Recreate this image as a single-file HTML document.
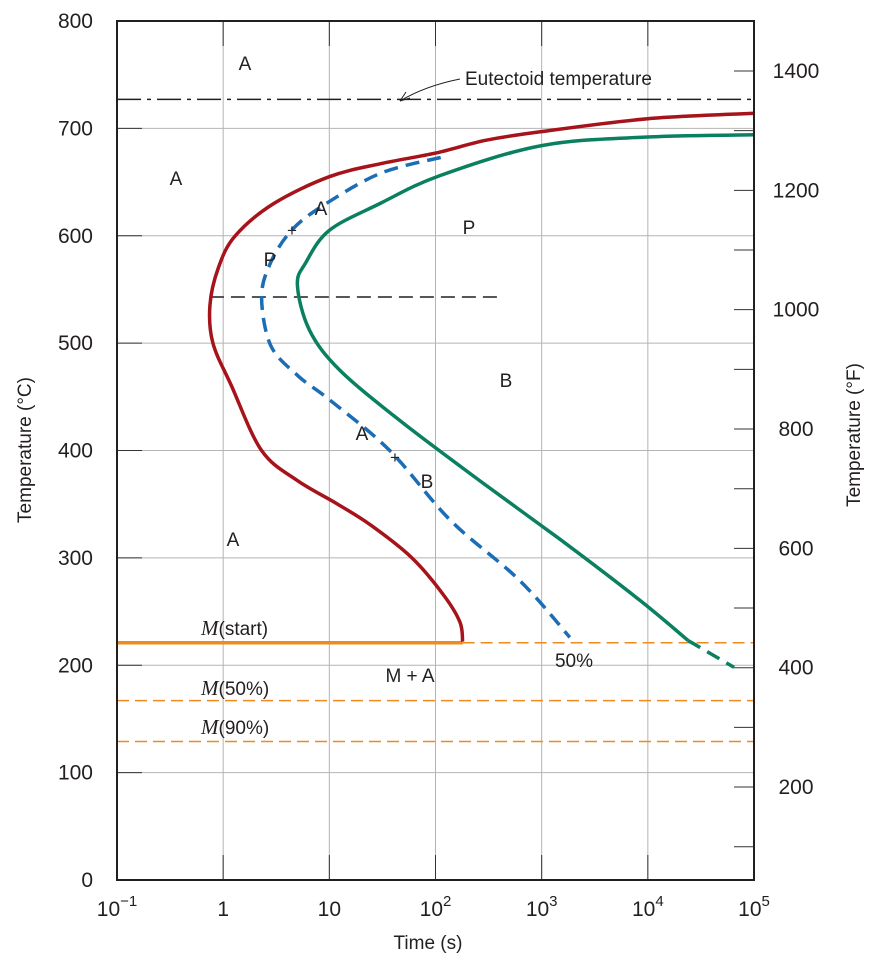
<!DOCTYPE html>
<html><head><meta charset="utf-8"><style>
html,body{margin:0;padding:0;background:#fff;}
svg text{font-family:"Liberation Sans",sans-serif;fill:#231f20;}
</style></head><body>
<svg id="chart" width="877" height="960" viewBox="0 0 877 960" xmlns="http://www.w3.org/2000/svg">
<g id="grid"></g>
<g id="lines"></g>
<g id="curves"></g>
<g id="axes"></g>
<g id="labels">
<text x="245" y="70" font-size="19" text-anchor="middle">A</text>
<text x="176" y="185" font-size="19" text-anchor="middle">A</text>
<text x="321" y="215" font-size="19" text-anchor="middle">A</text>
<text x="292" y="236" font-size="17" text-anchor="middle">+</text>
<text x="270" y="266" font-size="19" text-anchor="middle">P</text>
<text x="469" y="234" font-size="19" text-anchor="middle">P</text>
<text x="506" y="387" font-size="19" text-anchor="middle">B</text>
<text x="362" y="440" font-size="19" text-anchor="middle">A</text>
<text x="395" y="463" font-size="17" text-anchor="middle">+</text>
<text x="427" y="488" font-size="19" text-anchor="middle">B</text>
<text x="233" y="546" font-size="19" text-anchor="middle">A</text>
<text x="410" y="682" font-size="19" text-anchor="middle">M + A</text>
<text x="574" y="667" font-size="19" text-anchor="middle">50%</text>
<text x="201" y="635" font-size="19"><tspan font-family="Liberation Serif" font-style="italic" font-size="21">M</tspan>(start)</text>
<text x="201" y="695" font-size="19"><tspan font-family="Liberation Serif" font-style="italic" font-size="21">M</tspan>(50%)</text>
<text x="201" y="734" font-size="19"><tspan font-family="Liberation Serif" font-style="italic" font-size="21">M</tspan>(90%)</text>
<text x="465" y="85" font-size="19">Eutectoid temperature</text>
<path d="M460,79 Q425,86 400,101" fill="none" stroke="#231f20" stroke-width="1"/>
<path d="M400,101 L406,92 M400,101 L410,98" fill="none" stroke="#231f20" stroke-width="1"/>
</g>
<text x="428" y="949" font-size="19" text-anchor="middle">Time (s)</text>
<text x="0" y="0" font-size="19" text-anchor="middle" transform="translate(31,450) rotate(-90)">Temperature (°C)</text>
<text x="0" y="0" font-size="19" text-anchor="middle" transform="translate(860,435) rotate(-90)">Temperature (°F)</text>
</svg>
<script>
const xDecades = [-1,0,1,2,3,4,5];
const xTickLabels = ["10","1","10","10","10","10","10"];
const xTickExps = ["−1","","","2","3","4","5"];
const yTicksC = [0,100,200,300,400,500,600,700,800];
const yTicksF = [100,200,300,400,500,600,700,800,900,1000,1100,1200,1300,1400];
const yLabelsF = [200,400,600,800,1000,1200,1400];
const redTime = [1e5,1e4,1000,300,100,30,10,3,1.3,0.9,0.75,0.8,1.2,2.3,5,12,25,60,120,170,180];
const redTemp = [714,709,697,689,677,667,655,630,600,570,535,500,460,400,372,350,330,300,265,240,222];
const blueTime = [112,30,8.7,4.4,2.8,2.3,2.8,5,10.1,37,138,620,1840];
const blueTemp = [673,658,628,605,575,543,498,470,447,400,335,279,226];
const greenTime = [1e5,1e4,1000,110,30,10,6,5,6.5,12.5,46,260,1500,8300,24000];
const greenTemp = [694,692,684,656,630,605,575,554,512,475,428,372,317,261,223];
const greenDashTime = [24000,65000];
const greenDashTemp = [223,198];
const eutectoidTemp = 727;
const noseLineTemp = 543;
const noseLineTime = [0.75,400];
const mStartTemp = 221;
const mStartEndTime = 180;
const m50Temp = 167;
const m90Temp = 129;

const L=117,R=754,T=21,B=880;
const xs = t => L + (Math.log10(t)+1)*(R-L)/6;
const ys = c => B - c*(B-T)/800;
const yf = f => 71 + (1400-f)*0.5967;
const NS="http://www.w3.org/2000/svg";
function mk(tag, parent, attrs){const e=document.createElementNS(NS,tag);for(const k in attrs)e.setAttribute(k,attrs[k]);parent.appendChild(e);return e;}
const grid=document.getElementById('grid'),axes=document.getElementById('axes'),lines=document.getElementById('lines'),curves=document.getElementById('curves');

xDecades.forEach((d,i)=>{
  const x=L+(d+1)*(R-L)/6;
  if(i>0&&i<6){const g=mk('line',grid,{x1:x,x2:x,y1:T,y2:B,stroke:'#b4b4b4','stroke-width':1});
  
  
  const t1=mk('line',grid,{x1:x,x2:x,y1:T,y2:T+25,stroke:'#333','stroke-width':1});
  
  
  const t2=mk('line',grid,{x1:x,x2:x,y1:B-25,y2:B,stroke:'#333','stroke-width':1});
  
  }
  const tx=mk('text',axes,{x:x,y:916,'font-size':21,'text-anchor':'middle'});
  
  
  tx.textContent=xTickLabels[i];
  if(xTickExps[i]){const s=mk('tspan',tx,{dy:-10,'font-size':15});s.textContent=xTickExps[i];}
});
yTicksC.forEach(c=>{
  const y=ys(c);
  if(c>0&&c<800){const g=mk('line',grid,{x1:L,x2:R,y1:y,y2:y,stroke:'#b4b4b4','stroke-width':1});
  
  
  const t=mk('line',grid,{x1:L,x2:L+25,y1:y,y2:y,stroke:'#333','stroke-width':1});
  
  }
  const tx=mk('text',axes,{x:93,y:y+7,'font-size':21,'text-anchor':'end'});
  
  
  tx.textContent=c;
});
yTicksF.forEach(f=>{
  const y=yf(f);
  const t=mk('line',grid,{x1:R-20,x2:R,y1:y,y2:y,stroke:'#333','stroke-width':1});
  
  
});
yLabelsF.forEach(f=>{
  const tx=mk('text',axes,{x:796,y:yf(f)+7,'font-size':21,'text-anchor':'middle'});
  
  
  tx.textContent=f;
});
const fr=mk('rect',axes,{x:L,y:T,width:R-L,height:B-T,fill:'none',stroke:'#231f20','stroke-width':2});



function hline(temp,x1,x2,color,w,dash,name){
  const e=mk('line',lines,{x1:x1,x2:x2,y1:ys(temp),y2:ys(temp),stroke:color,'stroke-width':w});
  if(dash)e.setAttribute('stroke-dasharray',dash);
  
  
}
hline(eutectoidTemp,L,R,'#231f20',1.5,'24,6,4,6','eutectoid-line');
hline(noseLineTemp,xs(noseLineTime[0]),xs(noseLineTime[1]),'#231f20',1.5,'14,7','nose-temperature-line');
hline(mStartTemp,L,xs(mStartEndTime),'#f08a1e',3.5,null,'m-start-line');
hline(mStartTemp,xs(mStartEndTime),R,'#f08a1e',1.5,'12,6','m-start-extension');
hline(m50Temp,L,R,'#f08a1e',1.5,'12,6','m-50-line');
hline(m90Temp,L,R,'#f08a1e',1.5,'12,6','m-90-line');

function smooth(ts,cs){
  const p=ts.map((t,i)=>[xs(t),ys(cs[i])]);
  let d='M'+p[0][0].toFixed(1)+','+p[0][1].toFixed(1);
  for(let i=0;i<p.length-1;i++){
    const p0=p[Math.max(0,i-1)],p1=p[i],p2=p[i+1],p3=p[Math.min(p.length-1,i+2)];
    const c1=[p1[0]+(p2[0]-p0[0])/6,p1[1]+(p2[1]-p0[1])/6],c2=[p2[0]-(p3[0]-p1[0])/6,p2[1]-(p3[1]-p1[1])/6];
    d+=' C'+c1.map(v=>v.toFixed(1))+' '+c2.map(v=>v.toFixed(1))+' '+p2.map(v=>v.toFixed(1));
  }
  return d;
}
function curve(ts,cs,color,dash,name){
  const e=mk('path',curves,{d:smooth(ts,cs),fill:'none',stroke:color,'stroke-width':3.5,'stroke-linejoin':'round'});
  if(dash)e.setAttribute('stroke-dasharray',dash);
  
  
}
curve(redTime,redTemp,'#a6131a',null,'transformation-start-curve');
curve(blueTime,blueTemp,'#1b6db5','14,8','fifty-percent-curve');
curve(greenTime,greenTemp,'#0a8060',null,'transformation-end-curve');
curve(greenDashTime,greenDashTemp,'#0a8060','14,8','transformation-end-dashed');
</script>
</body></html>
